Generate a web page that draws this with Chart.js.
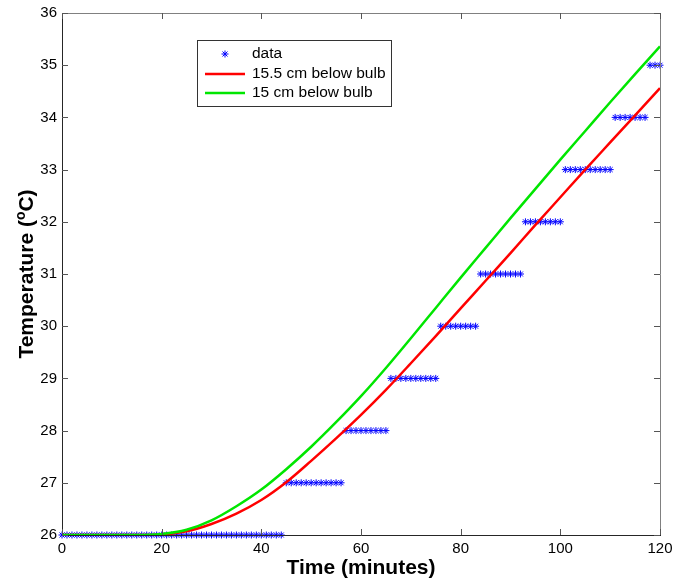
<!DOCTYPE html>
<html lang="en">
<head>
    <meta charset="UTF-8">
    <title>Temperature vs Time</title>
    <script src="https://cdn.jsdelivr.net/npm/chart.js"></script>
    <style>
        body { margin: 0; background: #fff; }
        #wrap { width: 674px; height: 579px; }
    </style>
</head>
<body>

    <div id="wrap">
        <canvas id="tempChart" width="674" height="579"></canvas>
    </div>

    <script>
        // measured points, one per minute
        const dataTime = [
            0, 1, 2, 3, 4, 5, 6, 7, 8, 9, 10, 11, 12, 13, 14, 15, 16, 17, 18, 19,
            20, 21, 22, 23, 24, 25, 26, 27, 28, 29, 30, 31, 32, 33, 34, 35, 36, 37, 38, 39,
            40, 41, 42, 43, 44, 45, 46, 47, 48, 49, 50, 51, 52, 53, 54, 55, 56, 57, 58, 59,
            60, 61, 62, 63, 64, 65, 66, 67, 68, 69, 70, 71, 72, 73, 74, 75, 76, 77, 78, 79,
            80, 81, 82, 83, 84, 85, 86, 87, 88, 89, 90, 91, 92, 93, 94, 95, 96, 97, 98, 99,
            100, 101, 102, 103, 104, 105, 106, 107, 108, 109, 110, 111, 112, 113, 114, 115, 116, 117, 118, 119,
            120
        ];
        const dataTemp = [
            26, 26, 26, 26, 26, 26, 26, 26, 26, 26, 26, 26, 26, 26, 26, 26, 26, 26, 26, 26,
            26, 26, 26, 26, 26, 26, 26, 26, 26, 26, 26, 26, 26, 26, 26, 26, 26, 26, 26, 26,
            26, 26, 26, 26, 26, 27, 27, 27, 27, 27, 27, 27, 27, 27, 27, 27, 27, 28, 28, 28,
            28, 28, 28, 28, 28, 28, 29, 29, 29, 29, 29, 29, 29, 29, 29, 29, 30, 30, 30, 30,
            30, 30, 30, 30, 31, 31, 31, 31, 31, 31, 31, 31, 31, 32, 32, 32, 32, 32, 32, 32,
            32, 33, 33, 33, 33, 33, 33, 33, 33, 33, 33, 34, 34, 34, 34, 34, 34, 34, 35, 35,
            35
        ];

        // model curves
        const curveTime = [0, 5, 10, 15, 20, 25, 30, 35, 40, 45, 50, 55, 60, 65, 70, 75, 80, 85, 90, 95, 100, 105, 110, 115, 120];
        const redTemp = [26, 26, 26, 26, 26.01, 26.07, 26.21, 26.41, 26.67, 27.01, 27.42, 27.85, 28.3, 28.78, 29.29, 29.81, 30.34, 30.87, 31.4, 31.94, 32.47, 33.0, 33.52, 34.04, 34.56];
        const greenTemp = [26, 26, 26, 26, 26.02, 26.1, 26.28, 26.55, 26.87, 27.26, 27.69, 28.16, 28.66, 29.2, 29.77, 30.35, 30.93, 31.5, 32.07, 32.63, 33.19, 33.74, 34.29, 34.83, 35.36];

        const xTicks = [0, 20, 40, 60, 80, 100, 120];
        const yTicks = [26, 27, 28, 29, 30, 31, 32, 33, 34, 35, 36];

        const seriesNames = ['data', '15.5 cm below bulb', '15 cm below bulb'];
        const xTitle = 'Time (minutes)';

        const FONT = "'Liberation Sans', Arial, sans-serif";
        const GREEN = 'rgb(0, 230, 0)';

        const toPoints = (xs, ys) => xs.map((x, i) => ({ x: x, y: ys[i] }));

        // box, inward ticks, axis titles and legend in the matlab look
        const matlabFrame = {
            id: 'matlabFrame',
            afterDraw(chart) {
                const c = chart.ctx;
                const a = chart.chartArea;
                const sx = chart.scales.x;
                const sy = chart.scales.y;
                c.save();

                // frame
                c.lineWidth = 1;
                c.strokeStyle = '#808080';
                c.beginPath();
                c.moveTo(a.left, a.top + 0.5);
                c.lineTo(a.right + 0.5, a.top + 0.5);
                c.lineTo(a.right + 0.5, a.bottom);
                c.stroke();
                c.strokeStyle = '#262626';
                c.beginPath();
                c.moveTo(a.left + 0.5, a.top);
                c.lineTo(a.left + 0.5, a.bottom + 0.5);
                c.lineTo(a.right + 1, a.bottom + 0.5);
                c.stroke();

                // ticks pointing in
                c.strokeStyle = '#555';
                c.beginPath();
                yTicks.forEach(v => {
                    const py = Math.round(sy.getPixelForValue(v)) + 0.5;
                    c.moveTo(a.left, py); c.lineTo(a.left + 6, py);
                    c.moveTo(a.right, py); c.lineTo(a.right - 6, py);
                });
                xTicks.forEach(v => {
                    const px = Math.round(sx.getPixelForValue(v)) + 0.5;
                    c.moveTo(px, a.bottom); c.lineTo(px, a.bottom - 6);
                    c.moveTo(px, a.top); c.lineTo(px, a.top + 6);
                });
                c.stroke();

                // x title
                c.fillStyle = '#000';
                c.font = 'bold 21px ' + FONT;
                c.textAlign = 'center';
                c.textBaseline = 'alphabetic';
                c.fillText(xTitle, (a.left + a.right) / 2, 574);

                // y title with superscript o
                const p1 = 'Temperature (', p2 = 'o', p3 = 'C)';
                c.font = 'bold 21px ' + FONT;
                const w1 = c.measureText(p1).width;
                const w3 = c.measureText(p3).width;
                c.font = 'bold 14px ' + FONT;
                const w2 = c.measureText(p2).width;
                const total = w1 + w2 + w3;
                c.translate(33, (a.top + a.bottom) / 2);
                c.rotate(-Math.PI / 2);
                c.textAlign = 'left';
                let tx = -total / 2;
                c.font = 'bold 21px ' + FONT;
                c.fillText(p1, tx, 0);
                tx += w1;
                c.font = 'bold 14px ' + FONT;
                c.fillText(p2, tx, -8);
                tx += w2;
                c.font = 'bold 21px ' + FONT;
                c.fillText(p3, tx, 0);
                c.setTransform(1, 0, 0, 1, 0, 0);

                // legend
                c.fillStyle = '#fff';
                c.fillRect(197.5, 40.5, 194, 66);
                c.strokeStyle = '#333';
                c.lineWidth = 1;
                c.strokeRect(197.5, 40.5, 194, 66);
                const rows = [54, 74, 93];
                const ds = chart.data.datasets;
                // asterisk sample
                c.strokeStyle = ds[0].borderColor;
                c.lineWidth = 1;
                c.beginPath();
                c.moveTo(225 - 3.5, rows[0]); c.lineTo(225 + 3.5, rows[0]);
                c.moveTo(225, rows[0] - 3.5); c.lineTo(225, rows[0] + 3.5);
                c.moveTo(225 - 2.5, rows[0] - 2.5); c.lineTo(225 + 2.5, rows[0] + 2.5);
                c.moveTo(225 - 2.5, rows[0] + 2.5); c.lineTo(225 + 2.5, rows[0] - 2.5);
                c.stroke();
                [1, 2].forEach(i => {
                    c.strokeStyle = ds[i].borderColor;
                    c.lineWidth = 2.5;
                    c.beginPath();
                    c.moveTo(205, rows[i]); c.lineTo(245, rows[i]);
                    c.stroke();
                });
                c.fillStyle = '#000';
                c.font = '15.5px ' + FONT;
                c.textAlign = 'left';
                c.textBaseline = 'middle';
                seriesNames.forEach((name, i) => c.fillText(name, 252, rows[i]));

                c.restore();
            }
        };

        const config = {
            type: 'scatter',
            data: {
                datasets: [
                    {
                        label: seriesNames[0],
                        data: toPoints(dataTime, dataTemp),
                        pointStyle: 'star',
                        pointRadius: 3.5,
                        borderColor: 'rgb(0, 0, 255)',
                        backgroundColor: 'rgb(0, 0, 255)',
                        borderWidth: 1,
                        showLine: false,
                        clip: false,
                        order: 3
                    },
                    {
                        label: seriesNames[1],
                        data: toPoints(curveTime, redTemp),
                        showLine: true,
                        borderColor: 'rgb(255, 0, 0)',
                        borderWidth: 2.5,
                        pointRadius: 0,
                        cubicInterpolationMode: 'monotone',
                        order: 2
                    },
                    {
                        label: seriesNames[2],
                        data: toPoints(curveTime, greenTemp),
                        showLine: true,
                        borderColor: GREEN,
                        borderWidth: 2.5,
                        pointRadius: 0,
                        cubicInterpolationMode: 'monotone',
                        order: 1
                    }
                ]
            },
            options: {
                responsive: false,
                animation: false,
                devicePixelRatio: 1,
                layout: { padding: { top: 13, right: 14, left: 0, bottom: 0 } },
                plugins: {
                    legend: { display: false },
                    tooltip: { enabled: false }
                },
                scales: {
                    x: {
                        type: 'linear',
                        min: 0,
                        max: 120,
                        afterFit: s => { s.height = 44; s.paddingLeft = 0; s.paddingRight = 0; },
                        afterBuildTicks: s => { s.ticks = xTicks.map(v => ({ value: v })); },
                        ticks: {
                            color: '#000',
                            font: { family: FONT, size: 15 },
                            padding: 5,
                            maxRotation: 0
                        },
                        grid: { display: false, drawTicks: false },
                        border: { display: false }
                    },
                    y: {
                        min: 26,
                        max: 36,
                        afterFit: s => { s.width = 62; s.paddingTop = 0; s.paddingBottom = 0; },
                        afterBuildTicks: s => { s.ticks = yTicks.map(v => ({ value: v })); },
                        ticks: {
                            color: '#000',
                            font: { family: FONT, size: 15 },
                            padding: 5
                        },
                        grid: { display: false, drawTicks: false },
                        border: { display: false }
                    }
                }
            },
            plugins: [matlabFrame]
        };

        const tempChart = new Chart(document.getElementById('tempChart'), config);
    </script>

</body>
</html>
